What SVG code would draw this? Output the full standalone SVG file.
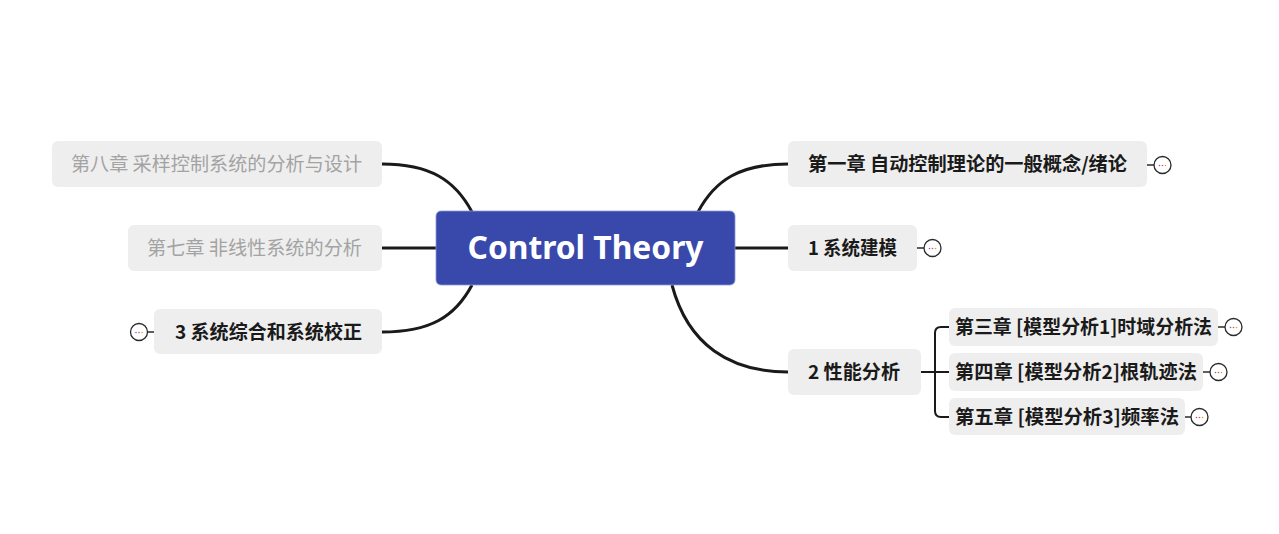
<svg xmlns="http://www.w3.org/2000/svg" width="1279" height="534" viewBox="0 0 1279 534">
<style>
.bg{fill:#ffffff}
.node{fill:#eeeeee}
.t{font-family:"Noto Sans CJK SC","Noto Sans",sans-serif;font-size:19px;font-weight:bold;fill:#1a1a1a}
.g{font-family:"Noto Sans CJK SC","Noto Sans",sans-serif;font-size:19px;font-weight:normal;fill:#a3a3a3}
.conn{fill:none;stroke:#1a1a1a;stroke-width:3;stroke-linecap:butt}
.sub{fill:none;stroke:#1a1a1a;stroke-width:2}
.col{fill:#ffffff;stroke:#2a2a2a;stroke-width:1.3}
.cl{stroke:#2a2a2a;stroke-width:1.5}
</style>
<defs>
<g id="collapse">
<circle class="col" cx="0" cy="0" r="8.5"/>
<circle cx="-3" cy="0.5" r="0.8" fill="#8a5cc7"/>
<circle cx="0" cy="0.5" r="0.8" fill="#d4555a"/>
<circle cx="3" cy="0.5" r="0.8" fill="#e0a030"/>
</g>
</defs>
<rect class="bg" x="0" y="0" width="1279" height="534"/>
<g id="connectors">
<path class="conn" d="M698,212 C715,180 740,164 788,164"/>
<path class="conn" d="M735,248 H788"/>
<path class="conn" d="M672,285 C688,345 730,372 788,372"/>
<path class="conn" d="M472,212 C455,180 430,164 382,164"/>
<path class="conn" d="M436,248 H382"/>
<path class="conn" d="M472,285 C455,317 430,332 382,332"/>
<path class="sub" d="M921,372 H949"/>
<path class="sub" d="M949,327 H941 Q935,327 935,333 V411 Q935,417 941,417 H949"/>
</g>
<g id="center">
<rect x="436" y="211" width="299" height="74" rx="5" fill="#3949ab" stroke="#8e98d6" stroke-width="0.8"/>
<text x="585.5" y="259" text-anchor="middle" font-family="'Noto Sans','Open Sans',sans-serif" font-size="32" font-weight="bold" fill="#ffffff" textLength="236" lengthAdjust="spacingAndGlyphs">Control Theory</text>
</g>
<g id="node-ch1">
<rect class="node" x="788" y="141" width="359" height="46" rx="6"/>
<text class="t" x="808" y="171" textLength="319" lengthAdjust="spacingAndGlyphs">第一章 自动控制理论的一般概念/绪论</text>
<line class="cl" x1="1147" y1="165" x2="1154" y2="165"/>
<use href="#collapse" x="1162.5" y="165"/>
</g>
<g id="node-1">
<rect class="node" x="788" y="225" width="129" height="46" rx="6"/>
<text class="t" x="808" y="255" textLength="89" lengthAdjust="spacingAndGlyphs">1 系统建模</text>
<line class="cl" x1="917" y1="248" x2="924" y2="248"/>
<use href="#collapse" x="932.5" y="248"/>
</g>
<g id="node-2">
<rect class="node" x="788" y="349" width="133" height="46" rx="6"/>
<text class="t" x="808" y="379" textLength="92" lengthAdjust="spacingAndGlyphs">2 性能分析</text>
</g>
<g id="node-ch3">
<rect class="node" x="949" y="308" width="269" height="38" rx="6"/>
<text class="t" x="955" y="334" textLength="257" lengthAdjust="spacingAndGlyphs">第三章 [模型分析1]时域分析法</text>
<line class="cl" x1="1218" y1="327" x2="1225" y2="327"/>
<use href="#collapse" x="1233.5" y="327"/>
</g>
<g id="node-ch4">
<rect class="node" x="949" y="353" width="254" height="38" rx="6"/>
<text class="t" x="955" y="379" textLength="242" lengthAdjust="spacingAndGlyphs">第四章 [模型分析2]根轨迹法</text>
<line class="cl" x1="1203" y1="372" x2="1210" y2="372"/>
<use href="#collapse" x="1218.5" y="372"/>
</g>
<g id="node-ch5">
<rect class="node" x="949" y="398" width="236" height="37" rx="6"/>
<text class="t" x="955" y="424" textLength="224" lengthAdjust="spacingAndGlyphs">第五章 [模型分析3]频率法</text>
<line class="cl" x1="1185" y1="417" x2="1191" y2="417"/>
<use href="#collapse" x="1199.5" y="417"/>
</g>
<g id="node-ch8">
<rect class="node" x="52" y="141" width="330" height="46" rx="6"/>
<text class="g" x="71" y="171" textLength="291" lengthAdjust="spacingAndGlyphs">第八章 采样控制系统的分析与设计</text>
</g>
<g id="node-ch7">
<rect class="node" x="128" y="225" width="254" height="46" rx="6"/>
<text class="g" x="147" y="255" textLength="215" lengthAdjust="spacingAndGlyphs">第七章 非线性系统的分析</text>
</g>
<g id="node-3">
<rect class="node" x="154" y="309" width="228" height="45" rx="6"/>
<text class="t" x="175" y="339" textLength="187" lengthAdjust="spacingAndGlyphs">3 系统综合和系统校正</text>
<line class="cl" x1="147" y1="332" x2="154" y2="332"/>
<use href="#collapse" x="139" y="332"/>
</g>
</svg>
